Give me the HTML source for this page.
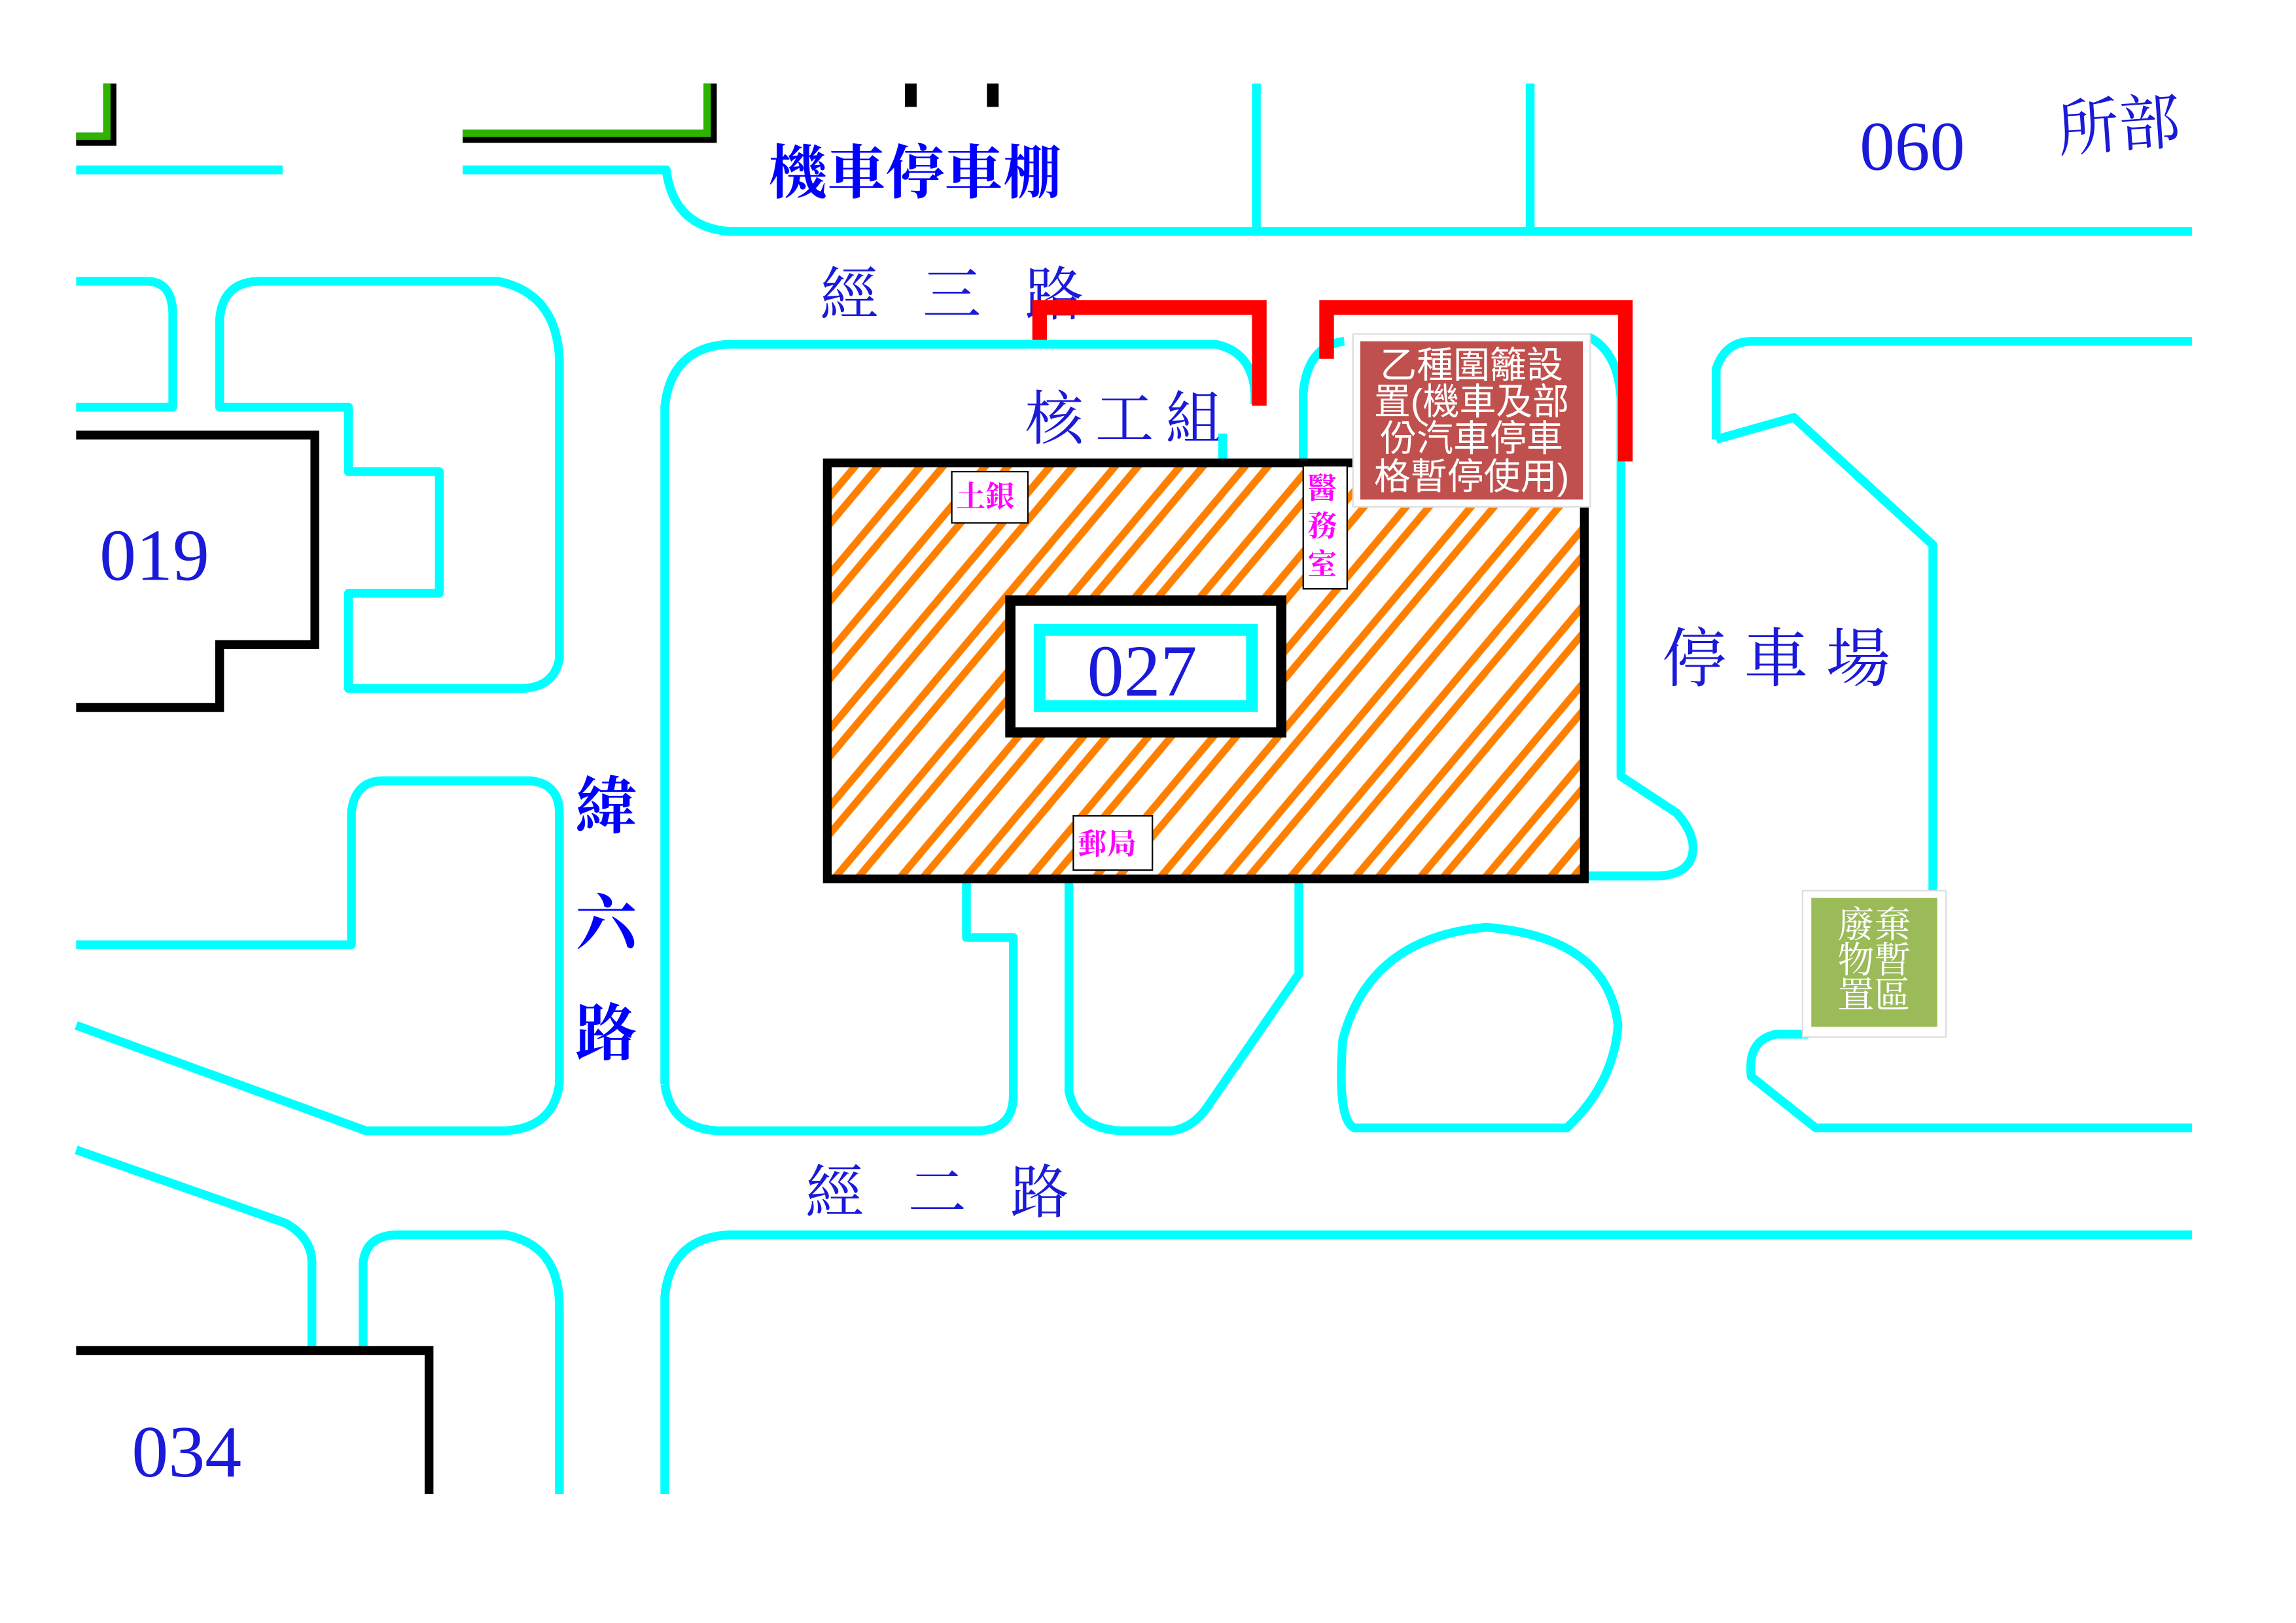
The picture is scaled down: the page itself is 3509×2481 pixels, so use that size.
<!DOCTYPE html>
<html><head><meta charset="utf-8"><style>
html,body{margin:0;padding:0;background:#fff;}
svg{display:block;}
.c{fill:none;stroke:#00ffff;stroke-width:6;stroke-linejoin:round;}
.b{fill:none;stroke:#000;stroke-width:5;}
.lab{font-family:"Liberation Serif","Noto Serif CJK TC",serif;fill:#1a1ad8;}
</style></head><body>
<svg width="3509" height="2481" viewBox="0 0 1568 1108" preserveAspectRatio="none" xmlns="http://www.w3.org/2000/svg">
<defs>
<pattern id="h" patternUnits="userSpaceOnUse" width="40" height="34" patternTransform="rotate(-50)">
<line x1="0" y1="6" x2="40" y2="6" stroke="#ff8000" stroke-width="5"/>
<line x1="0" y1="18" x2="40" y2="18" stroke="#ff8000" stroke-width="5"/>
</pattern>
</defs>
<rect width="1568" height="1108" fill="#fff"/>
<path d="M52,95 H75 V57" fill="none" stroke="#000" stroke-width="9"/>
<path d="M52,93 H73 V57" fill="none" stroke="#2db300" stroke-width="5"/>
<path d="M316,93 H485 V57" fill="none" stroke="#000" stroke-width="9"/>
<path d="M316,91 H483 V57" fill="none" stroke="#2db300" stroke-width="5"/>
<rect x="618" y="57" width="8" height="16" fill="#000"/>
<rect x="674" y="57" width="8" height="16" fill="#000"/>
<path class="c" d="M52,116 H193"/>
<path class="c" d="M316,116 H455 Q460,155 498,158 H1497"/>
<path class="c" d="M858,57 V158 M1045,57 V158"/>
<text x="525" y="132" font-family="'Liberation Serif','Noto Serif CJK TC',serif" font-weight="bold" font-size="40" fill="#0000ff">機車停車棚</text>
<text x="1270" y="116" class="lab" font-size="48">060</text>
<text x="1405" y="100" class="lab" font-size="42" transform="rotate(-4 1450 85)">所部</text>
<path class="c" d="M52,192 H100 Q118,192 118,215 V278 H52"/>
<path class="c" d="M150,278 V218 Q152,192 178,192 H340 Q380,200 382,245 V450 Q378,470 355,470 H238 V405 H300 V322 H238 V278 Z"/>
<path d="M52,297 H215 V440 H150 V483 H52" fill="none" stroke="#000" stroke-width="6"/>
<text x="68" y="396" class="lab" font-size="50">019</text>
<path class="c" d="M52,645 H240 V555 Q242,533 262,533 H362 Q382,535 382,555 V740 Q378,770 345,772 H250 L52,700"/>
<path class="c" d="M52,785 L195,835 Q213,845 213,862 V922 M248,922 V862 Q250,843 272,843 H345 Q382,850 382,892 V1020"/>
<path d="M52,922 H293 V1020" fill="none" stroke="#000" stroke-width="6"/>
<text x="90" y="1008" class="lab" font-size="50">034</text>
<text x="560" y="215" class="lab" font-size="40" letter-spacing="30">經三路</text>
<text x="550" y="828" class="lab" font-size="40" letter-spacing="30">經二路</text>
<text x="700" y="300" class="lab" font-size="40" letter-spacing="8">核工組</text>
<text x="1135" y="465" class="lab" font-size="44" letter-spacing="12">停車場</text>
<g font-family="'Liberation Serif','Noto Serif CJK TC',serif" font-weight="bold" font-size="42" fill="#0000ff">
<text x="393" y="565">緯</text><text x="393" y="645">六</text><text x="393" y="720">路</text>
</g>
<path class="c" d="M454,1020 V885 Q458,845 498,843 H1497"/>
<path class="c" d="M454,740 V278 Q458,237 498,235 H830 Q855,240 857,268 V276"/>
<path class="c" d="M454,740 Q458,770 490,772 H670 Q692,770 692,748 V640 H660 V600"/>
<path class="c" d="M835,296 V318"/>
<path class="c" d="M890,318 V268 Q893,236 918,233"/>
<path class="c" d="M1085,230 Q1105,240 1107,272 V530 L1145,555 Q1160,572 1155,586 Q1150,598 1130,598 H1080"/>
<path class="c" d="M730,600 V745 Q735,770 765,772 H800 Q815,770 825,755 L887,665 V600"/>
<path class="c" d="M925,770 H1070 Q1102,740 1105,700 Q1098,640 1015,633 Q935,640 917,710 Q913,765 925,770 Z"/>
<path class="c" d="M1172,300 V252 Q1178,233 1197,233 H1497 M1172,300 L1225,285 L1320,372 V612"/>
<path class="c" d="M1235,706 H1213 Q1193,710 1196,735 L1240,770 H1497"/>
<rect x="565" y="316" width="517" height="284" fill="url(#h)" stroke="#000" stroke-width="6"/>
<rect x="690" y="410" width="185" height="90" fill="#fff" stroke="#000" stroke-width="7"/>
<rect x="710" y="430" width="145" height="52" fill="#fff" stroke="#00ffff" stroke-width="8"/>
<text x="780" y="475" class="lab" font-size="50" text-anchor="middle">027</text>
<g font-family="'Liberation Serif','Noto Serif CJK TC',serif" font-weight="bold" font-size="20" fill="#ff00ff">
<rect x="650" y="322" width="52" height="35" fill="#fff" stroke="#000" stroke-width="1"/>
<text x="653" y="346">土銀</text>
<rect x="890" y="318" width="30" height="84" fill="#fff" stroke="#000" stroke-width="1"/>
<text x="893" y="340">醫</text><text x="893" y="366">務</text><text x="893" y="392">室</text>
<rect x="733" y="557" width="54" height="37" fill="#fff" stroke="#000" stroke-width="1"/>
<text x="736" y="583">郵局</text>
</g>
<path d="M710,232 V210 H860 V277" fill="none" stroke="#ff0000" stroke-width="10"/>
<path d="M906,245 V210 H1110 V315" fill="none" stroke="#ff0000" stroke-width="10"/>
<rect x="924" y="228" width="162" height="118" fill="#fff" stroke="#ddd" stroke-width="1"/>
<rect x="929" y="233" width="152" height="108" fill="#c0504d"/>
<g font-family="'Liberation Sans','Noto Sans CJK TC',sans-serif" font-size="25" fill="#fff" text-anchor="middle">
<text x="1005" y="258">乙種圍籬設</text>
<text x="1005" y="283">置(機車及部</text>
<text x="1005" y="308">份汽車停車</text>
<text x="1005" y="334">格暫停使用)</text>
</g>
<rect x="1231" y="608" width="98" height="100" fill="#fff" stroke="#ddd" stroke-width="1"/>
<rect x="1237" y="613" width="86" height="88" fill="#9bbb59"/>
<g font-family="'Liberation Serif','Noto Serif CJK TC',serif" font-size="25" fill="#fff" text-anchor="middle">
<text x="1280" y="640">廢棄</text>
<text x="1280" y="664">物暫</text>
<text x="1280" y="688">置區</text>
</g>
</svg>
</body></html>
